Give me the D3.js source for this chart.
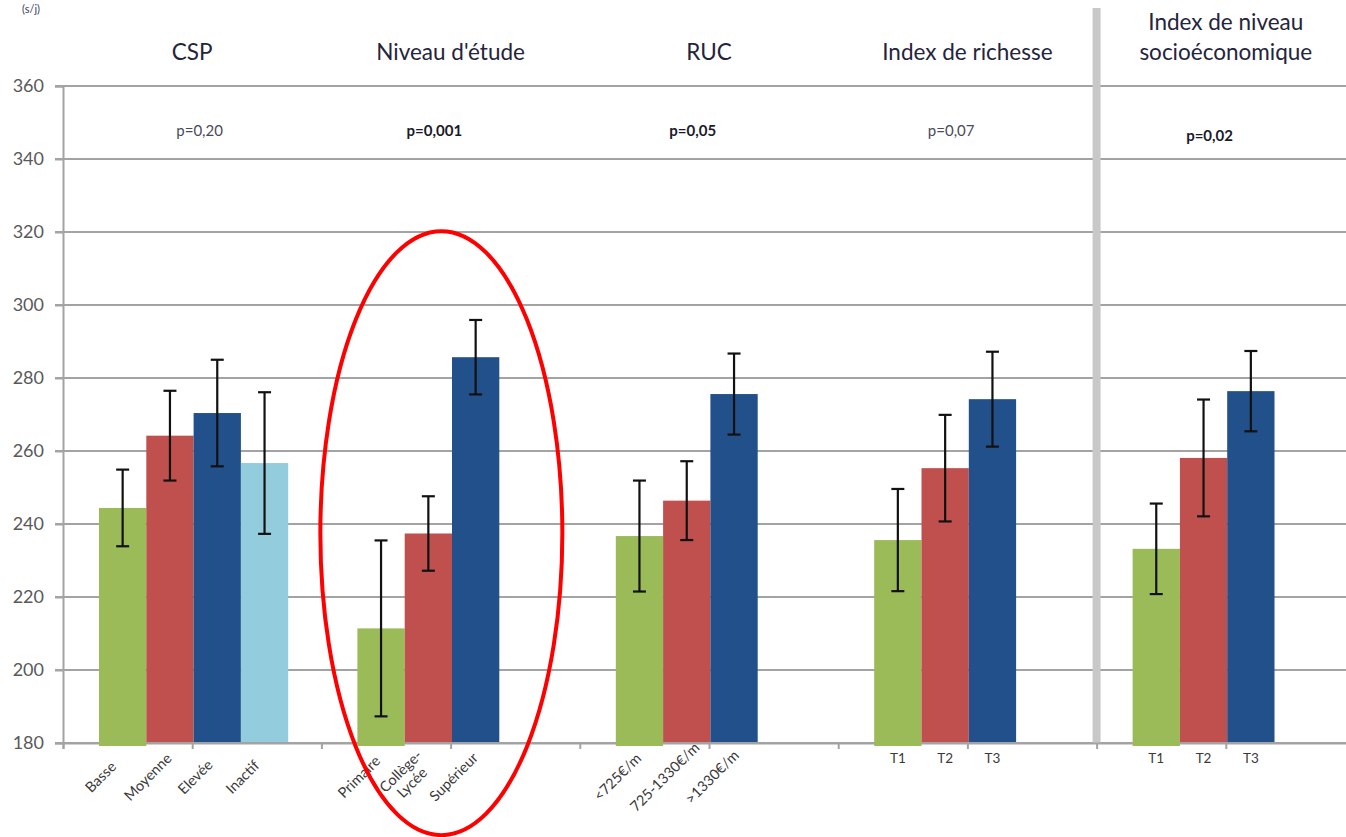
<!DOCTYPE html>
<html>
<head>
<meta charset="utf-8">
<script src="https://cdn.jsdelivr.net/npm/d3@7"></script>
<style>
  html, body { margin: 0; padding: 0; background: #fff; }
  svg { display: block; font-family: Lato, "Open Sans", sans-serif; }
</style>
</head>
<body>
<svg id="chart" width="1346" height="837"></svg>
<script>
// Panel headers and test results
const groupTitles = ["CSP", "Niveau d'étude", "RUC", "Index de richesse", "Index de niveau socioéconomique"];
const titleLines = [["CSP"], ["Niveau d'étude"], ["RUC"], ["Index de richesse"], ["Index de niveau", "socioéconomique"]];
const pLabels = ["p=0,20", "p=0,001", "p=0,05", "p=0,07", "p=0,02"];
const pSignificant = [false, true, true, false, true];

// Means and error half-widths per panel
const cspLabels = ["Basse", "Moyenne", "Elevée", "Inactif"];
const cspMeans = [244.4, 264.2, 270.4, 256.7];
const cspErrors = [10.5, 12.3, 14.6, 19.4];

const etudeLabels = ["Primaire", "Collège-\nLycée", "Supérieur"];
const etudeMeans = [211.4, 237.4, 285.7];
const etudeErrors = [24.1, 10.2, 10.2];

const rucLabels = ["<725€/m", "725-1330€/m", ">1330€/m"];
const rucMeans = [236.7, 246.4, 275.6];
const rucErrors = [15.2, 10.8, 11.1];

const richesseLabels = ["T1", "T2", "T3"];
const richesseMeans = [235.6, 255.3, 274.2];
const richesseErrors = [14.0, 14.6, 13.0];

const nseLabels = ["T1", "T2", "T3"];
const nseMeans = [233.2, 258.1, 276.4];
const nseErrors = [12.4, 16.0, 11.0];

const yTicks = [180, 200, 220, 240, 260, 280, 300, 320, 340, 360];
const barColors = ["#9bbb59", "#c0504d", "#22508a", "#93cddd"];

const panels = [
  { labels: cspLabels, means: cspMeans, errors: cspErrors, rotate: true },
  { labels: etudeLabels, means: etudeMeans, errors: etudeErrors, rotate: true },
  { labels: rucLabels, means: rucMeans, errors: rucErrors, rotate: true },
  { labels: richesseLabels, means: richesseMeans, errors: richesseErrors, rotate: false },
  { labels: nseLabels, means: nseMeans, errors: nseErrors, rotate: false }
];

const svg = d3.select("#chart");
const plotLeft = 63, plotTop = 86, plotBottom = 743, groupW = 258.4, barW = 47.3, barOffset = 36;

const y = d3.scaleLinear().domain([180, 360]).range([plotBottom, plotTop]);
const xGroup = d3.scaleBand().domain(groupTitles).range([plotLeft, plotLeft + groupTitles.length * groupW]).padding(0);
const xSlot = d3.scaleBand().domain(d3.range(4)).range([barOffset, barOffset + 4 * barW]).padding(0);
const xHalf = d3.scaleLinear().domain([0, groupTitles.length]).range([plotLeft, plotLeft + groupTitles.length * groupW]);

// unit label at the top-left corner
svg.append("text").attr("x", 22).attr("y", 13).attr("font-size", 11).attr("fill", "#404060").text("(s/j)");

// horizontal gridlines
svg.append("g").selectAll("line").data(yTicks).join("line")
  .attr("x1", 55).attr("x2", 1346)
  .attr("y1", d => y(d)).attr("y2", d => y(d))
  .attr("stroke", "#a3a3a3").attr("stroke-width", 2);

// y axis
const yAxis = svg.append("g").attr("transform", `translate(${plotLeft},0)`)
  .call(d3.axisLeft(y).tickValues(yTicks).tickSize(8).tickPadding(11));
yAxis.select(".domain").attr("stroke", "#a3a3a3").attr("stroke-width", 2);
yAxis.selectAll(".tick line").attr("stroke", "#a3a3a3").attr("stroke-width", 2);
yAxis.selectAll(".tick text").attr("font-size", 18).attr("fill", "#595959")
  .attr("font-family", "Lato, sans-serif");

// separator before the last panel
svg.append("rect")
  .attr("x", xGroup(groupTitles[4]) - 4).attr("y", 8)
  .attr("width", 8).attr("height", plotBottom - 8)
  .attr("fill", "#c8c8c8");

// x axis with ticks at panel edges and centres
const xAxis = svg.append("g").attr("transform", `translate(0,${plotBottom})`)
  .call(d3.axisBottom(xHalf).tickValues(d3.range(0, groupTitles.length + 0.01, 0.5)).tickSize(6).tickFormat(""));
xAxis.select(".domain").attr("stroke", "#a3a3a3").attr("stroke-width", 2);
xAxis.selectAll(".tick line").attr("stroke", "#a3a3a3").attr("stroke-width", 2);

// panel titles
groupTitles.forEach((g, i) => {
  const cx = xGroup(g) + groupW / 2;
  const lines = titleLines[i];
  const t = svg.append("text").attr("text-anchor", "middle").attr("font-size", 22.5).attr("fill", "#24243c");
  lines.forEach((ln, k) => {
    t.append("tspan").attr("x", cx).attr("y", 60 - (lines.length - 1 - k) * 30).text(ln);
  });
});

// p-values, centred over each bar cluster
groupTitles.forEach((g, i) => {
  const n = panels[i].labels.length;
  svg.append("text")
    .attr("x", xGroup(g) + xSlot(0) + n * barW / 2 + 6)
    .attr("y", i === 4 ? 141 : 136)
    .attr("text-anchor", "middle")
    .attr("font-size", 15)
    .attr("font-weight", pSignificant[i] ? "bold" : "normal")
    .attr("fill", pSignificant[i] ? "#1a1a2a" : "#4a4a5a")
    .text(pLabels[i]);
});

// bars, error bars and category labels
panels.forEach((p, gi) => {
  const gx = xGroup(groupTitles[gi]);
  const g = svg.append("g").attr("transform", `translate(${gx},0)`);
  const rows = p.labels.map((lab, k) => ({ lab, k, m: p.means[k], e: p.errors[k] }));

  g.selectAll("rect.bar").data(rows).join("rect")
    .attr("class", "bar")
    .attr("x", d => xSlot(d.k)).attr("width", xSlot.bandwidth())
    .attr("y", d => y(d.m))
    .attr("height", d => y(180) - y(d.m) + (d.k === 0 ? 3 : -1))
    .attr("fill", d => barColors[d.k]);

  const cx = d => xSlot(d.k) + xSlot.bandwidth() / 2;
  const eb = g.selectAll("g.err").data(rows).join("g").attr("class", "err")
    .attr("stroke", "#111").attr("stroke-width", 2.2);
  eb.append("line").attr("x1", cx).attr("x2", cx).attr("y1", d => y(d.m + d.e)).attr("y2", d => y(d.m - d.e));
  eb.append("line").attr("x1", d => cx(d) - 6.5).attr("x2", d => cx(d) + 6.5).attr("y1", d => y(d.m + d.e)).attr("y2", d => y(d.m + d.e));
  eb.append("line").attr("x1", d => cx(d) - 6.5).attr("x2", d => cx(d) + 6.5).attr("y1", d => y(d.m - d.e)).attr("y2", d => y(d.m - d.e));

  if (p.rotate) {
    rows.forEach(d => {
      const lines = d.lab.split("\n");
      const t = g.append("text")
        .attr("transform", `translate(${cx(d) - 22},${plotBottom + 34}) rotate(-45)`)
        .attr("text-anchor", "middle").attr("font-size", 14.5).attr("fill", "#3a3a3a");
      lines.forEach((ln, k) => {
        t.append("tspan").attr("x", 0)
          .attr("dy", k === 0 ? (5 - (lines.length - 1) * 8) : 16).text(ln);
      });
    });
  } else {
    g.selectAll("text.cat").data(rows).join("text").attr("class", "cat")
      .attr("x", cx).attr("y", plotBottom + 20)
      .attr("text-anchor", "middle").attr("font-size", 13.5).attr("fill", "#3a3a3a")
      .text(d => d.lab);
  }
});

// highlight around the education panel
svg.append("ellipse")
  .attr("cx", xGroup(groupTitles[1]) + xSlot(1) + barW / 2 + 13).attr("cy", y(237.5))
  .attr("rx", 121).attr("ry", 302)
  .attr("fill", "none").attr("stroke", "#ff0000").attr("stroke-width", 4);
</script>
</body>
</html>
